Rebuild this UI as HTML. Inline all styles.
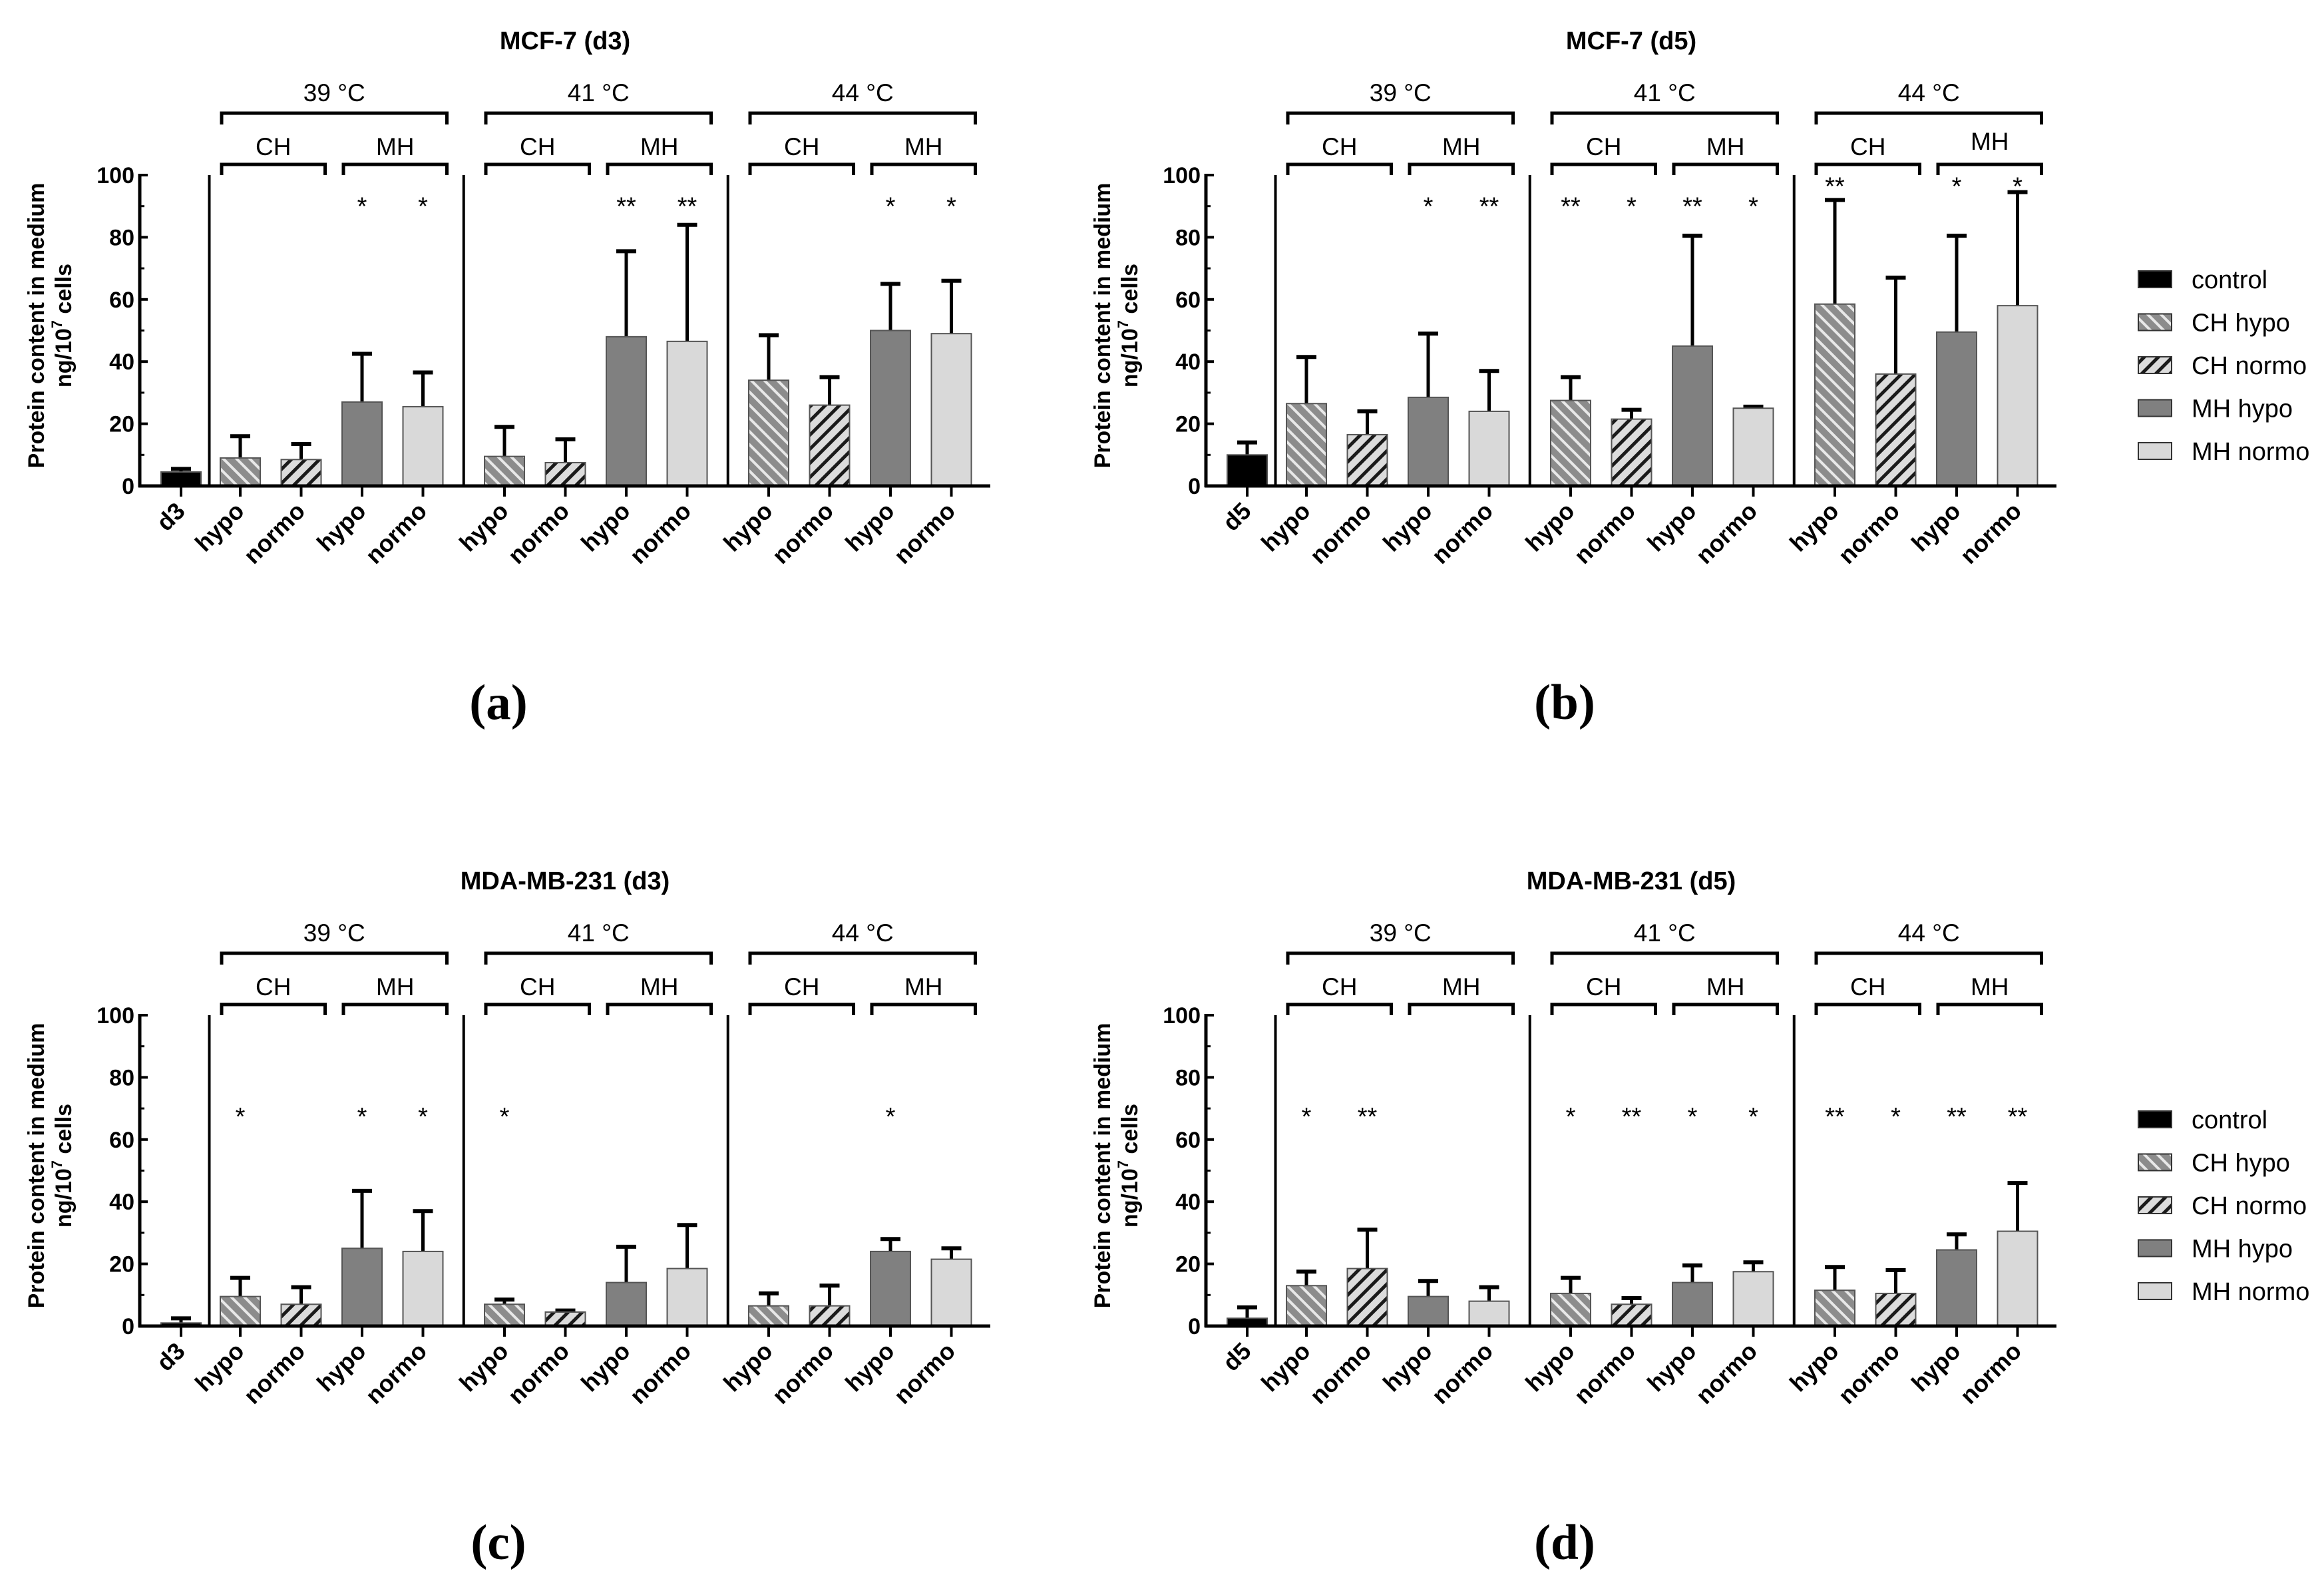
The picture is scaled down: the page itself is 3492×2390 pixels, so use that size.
<!DOCTYPE html>
<html><head><meta charset="utf-8">
<style>
html,body{margin:0;padding:0;background:#fff;}
svg{display:block;}
text{font-family:"Liberation Sans",Arial,sans-serif;}
</style></head>
<body>
<svg id="fig" xmlns="http://www.w3.org/2000/svg" width="3492" height="2390" viewBox="0 0 3492 2390">
<defs>
<pattern id="chHypo" patternUnits="userSpaceOnUse" width="14" height="14" patternTransform="rotate(-45)">
<rect width="14" height="14" fill="#8c8c8c"/><rect x="0" y="0" width="4" height="14" fill="#e8e8e8"/>
</pattern>
<pattern id="chNormo" patternUnits="userSpaceOnUse" width="15" height="15" patternTransform="rotate(45)">
<rect width="15" height="15" fill="#dcdcdc"/><rect x="0" y="0" width="5" height="15" fill="#1a1a1a"/>
</pattern>
</defs>
<g id="root"></g>
</svg>
<script>
// ---- data ----
const panelTitles = ["MCF-7 (d3)", "MCF-7 (d5)", "MDA-MB-231 (d3)", "MDA-MB-231 (d5)"];
const panelLetters = ["(a)", "(b)", "(c)", "(d)"];
const controlLabels = ["d3", "d5", "d3", "d5"];
const tempLabels = ["39 °C", "41 °C", "44 °C"];
const xLabels = ["hypo", "normo", "hypo", "normo"];
const yTicks = [0, 20, 40, 60, 80, 100];
const legendLabels = ["control", "CH hypo", "CH normo", "MH hypo", "MH normo"];

const controlA = [4.5, 5.5];
const meansA = [9, 8.5, 27, 25.5, 9.5, 7.5, 48, 46.5, 34, 26, 50, 49];
const errA = [16, 13.5, 42.5, 36.5, 19, 15, 75.5, 84, 48.5, 35, 65, 66];
const starsA = ["", "", "*", "*", "", "", "**", "**", "", "", "*", "*"];
const starLevelA = [91.5, 91.5, 91.5, 91.5, 91.5, 91.5, 91.5, 91.5, 91.5, 91.5, 91.5, 91.5];

const controlB = [10, 14];
const meansB = [26.5, 16.5, 28.5, 24, 27.5, 21.5, 45, 25, 58.5, 36, 49.5, 58];
const errB = [41.5, 24, 49, 37, 35, 24.5, 80.5, 25.5, 92, 67, 80.5, 94.5];
const starsB = ["", "", "*", "**", "**", "*", "**", "*", "**", "", "*", "*"];
const starLevelB = [91.5, 91.5, 91.5, 91.5, 91.5, 91.5, 91.5, 91.5, 98, 98, 98, 98];

const controlC = [1, 2.5];
const meansC = [9.5, 7, 25, 24, 7, 4.5, 14, 18.5, 6.5, 6.5, 24, 21.5];
const errC = [15.5, 12.5, 43.5, 37, 8.5, 5, 25.5, 32.5, 10.5, 13, 28, 25];
const starsC = ["*", "", "*", "*", "*", "", "", "", "", "", "*", ""];
const starLevelC = [69, 69, 69, 69, 69, 69, 69, 69, 69, 69, 69, 69];

const controlD = [2.5, 6];
const meansD = [13, 18.5, 9.5, 8, 10.5, 7, 14, 17.5, 11.5, 10.5, 24.5, 30.5];
const errD = [17.5, 31, 14.5, 12.5, 15.5, 9, 19.5, 20.5, 19, 18, 29.5, 46];
const starsD = ["*", "**", "", "", "*", "**", "*", "*", "**", "*", "**", "**"];
const starLevelD = [69, 69, 69, 69, 69, 69, 69, 69, 69, 69, 69, 69];

const panels = [
  {c: controlA, m: meansA, e: errA, s: starsA, sl: starLevelA},
  {c: controlB, m: meansB, e: errB, s: starsB, sl: starLevelB},
  {c: controlC, m: meansC, e: errC, s: starsC, sl: starLevelC},
  {c: controlD, m: meansD, e: errD, s: starsD, sl: starLevelD}
];

// ---- drawing ----
const NS = "http://www.w3.org/2000/svg";
const root = document.getElementById("root");
function mk(tag, attrs, parent, txt) {
  const el = document.createElementNS(NS, tag);
  for (const k in attrs) el.setAttribute(k, attrs[k]);
  if (txt !== undefined) el.textContent = txt;
  (parent || root).appendChild(el);
  return el;
}
const fills = ["url(#chHypo)", "url(#chNormo)", "#808080", "#d9d9d9"];

panels.forEach((p, pi) => {
  const dx = (pi % 2) * 1602;
  const dy = Math.floor(pi / 2) * 1262;
  const y0 = 730 + dy, y100 = 263 + dy;
  const yS = v => y0 - (v / 100) * (y0 - y100);
  const axX = 210 + dx, axEnd = 1488 + dx;
  const ctrlX = 272 + dx;
  const barX = i => 361 + dx + i * 91.5 + Math.floor(i / 4) * 31;
  const bw = 60;

  const g = mk("g", {});
  
  

  const t = mk("text", {x: 849 + dx, y: 74 + dy, "font-size": 38, "font-weight": "bold", "text-anchor": "middle"}, g, panelTitles[pi]);
  
  

  const yt = mk("text", {transform: `translate(${66 + dx},${489 + dy}) rotate(-90)`, "font-size": 34, "font-weight": "bold", "text-anchor": "middle"}, g, "Protein content in medium");
  
  
  const yt2 = mk("text", {transform: `translate(${107 + dx},${489 + dy}) rotate(-90)`, "font-size": 34, "font-weight": "bold", "text-anchor": "middle"}, g);
  
  
  mk("tspan", {}, yt2, "ng/10");
  mk("tspan", {dy: -14, "font-size": 22}, yt2, "7");
  mk("tspan", {dy: 14}, yt2, " cells");

  yTicks.forEach(v => {
    mk("line", {x1: axX, x2: axX + 12, y1: yS(v), y2: yS(v), stroke: "#000", "stroke-width": 4}, g);
    const tl = mk("text", {x: axX - 8, y: yS(v) + 12, "font-size": 34, "font-weight": "bold", "text-anchor": "end"}, g, String(v));
    
    
  });
  for (let v = 10; v < 100; v += 20) mk("line", {x1: axX, x2: axX + 7, y1: yS(v), y2: yS(v), stroke: "#000", "stroke-width": 3}, g);
  const ya = mk("line", {x1: axX, x2: axX, y1: y100 - 2, y2: y0 + 2, stroke: "#000", "stroke-width": 5}, g);
  
  

  [0, 1, 2].forEach(k => {
    const sx = k === 0 ? (ctrlX + barX(0)) / 2 - 2 : (barX(4 * k - 1) + barX(4 * k)) / 2;
    const sl = mk("line", {x1: sx, x2: sx, y1: y100, y2: y0, stroke: "#000", "stroke-width": 4}, g);
    
    
  });

  function drawBar(cx, v, e, fill, name) {
    mk("line", {x1: cx, x2: cx, y1: yS(e), y2: yS(v), stroke: "#000", "stroke-width": 5}, g);
    mk("line", {x1: cx - 15, x2: cx + 15, y1: yS(e), y2: yS(e), stroke: "#000", "stroke-width": 6}, g);
    const r = mk("rect", {x: cx - bw / 2, y: yS(v), width: bw, height: y0 - yS(v), fill: fill, stroke: "#555", "stroke-width": 2}, g);
    
    
    mk("line", {x1: cx, x2: cx, y1: y0, y2: y0 + 16, stroke: "#000", "stroke-width": 4}, g);
  }
  drawBar(ctrlX, p.c[0], p.c[1], "#000", "bar-control");
  p.m.forEach((v, i) => {
    const cx = barX(i);
    drawBar(cx, v, p.e[i], fills[i % 4], "bar-" + tempLabels[Math.floor(i / 4)].slice(0, 2) + "-" + ["ch-hypo", "ch-normo", "mh-hypo", "mh-normo"][i % 4]);
    if (p.s[i]) {
      const st = mk("text", {x: cx, y: yS(p.sl[i]) + 20, "font-size": 38, "text-anchor": "middle"}, g, p.s[i]);
      
      
    }
  });

  const xa = mk("line", {x1: axX - 2, x2: axEnd, y1: y0, y2: y0, stroke: "#000", "stroke-width": 5}, g);
  
  

  const allX = [ctrlX].concat(p.m.map((_, i) => barX(i)));
  allX.forEach((cx, i) => {
    const lab = i === 0 ? controlLabels[pi] : xLabels[(i - 1) % 4];
    const xl = mk("text", {transform: `translate(${cx + 8},${y0 + 40}) rotate(-45)`, "font-size": 36, "font-weight": "bold", "text-anchor": "end"}, g, lab);
    
    
  });

  const bT = 170 + dy, bS = 247 + dy;
  function bracket(x1, x2, y, y2, name) {
    const b = mk("path", {d: `M${x1},${y2} L${x1},${y} L${x2},${y} L${x2},${y2}`, fill: "none", stroke: "#000", "stroke-width": 5}, g);
    
    
  }
  [0, 1, 2].forEach(k => {
    const xa1 = barX(4 * k) - 28, xa2 = barX(4 * k + 3) + 36;
    bracket(xa1, xa2, bT, bT + 17, 'temperature-bracket');
    const tl = mk("text", {x: (xa1 + xa2) / 2, y: 152 + dy, "font-size": 37, "text-anchor": "middle"}, g, tempLabels[k]);
    
    
    ["CH", "MH"].forEach((h, j) => {
      const s1 = barX(4 * k + 2 * j) - 28, s2 = barX(4 * k + 2 * j + 1) + 36;
      const lift = (pi === 1 && k === 2 && j === 1) ? 8 : 0;
      bracket(s1, s2, bS, bS + 16, 'heating-bracket');
      const hl = mk("text", {x: (s1 + s2) / 2, y: 233 + dy - lift, "font-size": 37, "text-anchor": "middle"}, g, h);
      
      
    });
  });

  const pl = mk("text", {x: 749 + dx, y: 1080 + dy, "font-size": 75, "font-weight": "bold", "text-anchor": "middle", style: 'font-family:"Liberation Serif",serif'}, g, panelLetters[pi]);
  
  

  if (pi % 2 === 1) {
    const lfills = ["#000", "url(#chHypo)", "url(#chNormo)", "#808080", "#d9d9d9"];
    legendLabels.forEach((l, j) => {
      const ly = 419 + dy + j * 64.5;
      const lg = mk("g", {}, g);
      
      
      mk("rect", {x: 3213, y: ly - 12, width: 50, height: 25, fill: lfills[j], stroke: "#333", "stroke-width": 2}, lg);
      mk("text", {x: 3293, y: ly + 14, "font-size": 38}, lg, l);
    });
  }
});
</script>
</body></html>
